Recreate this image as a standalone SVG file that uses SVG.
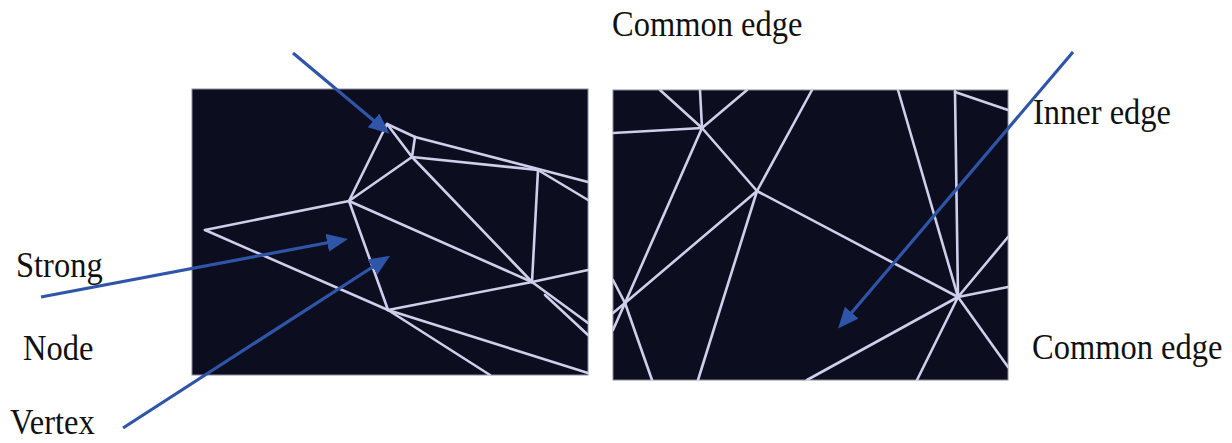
<svg xmlns="http://www.w3.org/2000/svg" width="1232" height="443" viewBox="0 0 1232 443">
  <style>
    .panel { fill: #0c0e1f; stroke: #8a8a9a; stroke-width: 1; }
    .mesh line { stroke: #cfcfec; stroke-width: 2.6; stroke-linecap: round; }
    .lbl { font-family: "Liberation Serif", "Times New Roman", serif; font-size: 32.5px; fill: #111; }
    .arrow { stroke: #2f55a8; stroke-width: 3.2; fill: none; }
  </style>
  <defs>
    <marker id="ah" markerUnits="userSpaceOnUse" markerWidth="22" markerHeight="20" refX="15" refY="9" orient="auto">
      <path d="M0,0 L21,9 L0,18 z" fill="#2f55a8"/>
    </marker>
  </defs>
  <rect width="1232" height="443" fill="#ffffff"/>

  <g id="panel-left">
    <rect class="panel" x="192" y="89" width="396" height="286"/>
    <g class="mesh">
      <line x1="387" y1="124" x2="415" y2="137"/>
      <line x1="415" y1="137" x2="588" y2="182"/>
      <line x1="415" y1="137" x2="412" y2="157"/>
      <line x1="387" y1="124" x2="412" y2="157"/>
      <line x1="387" y1="124" x2="349" y2="201"/>
      <line x1="412" y1="157" x2="349" y2="201"/>
      <line x1="412" y1="157" x2="538" y2="170"/>
      <line x1="538" y1="170" x2="588" y2="200"/>
      <line x1="538" y1="170" x2="532" y2="282"/>
      <line x1="412" y1="157" x2="532" y2="282"/>
      <line x1="349" y1="201" x2="532" y2="282"/>
      <line x1="349" y1="201" x2="205" y2="230"/>
      <line x1="349" y1="201" x2="388" y2="310"/>
      <line x1="205" y1="230" x2="388" y2="310"/>
      <line x1="388" y1="310" x2="532" y2="282"/>
      <line x1="532" y1="282" x2="588" y2="270"/>
      <line x1="532" y1="282" x2="588" y2="323"/>
      <line x1="545" y1="295" x2="588" y2="335"/>
      <line x1="388" y1="310" x2="490" y2="375"/>
      <line x1="388" y1="310" x2="588" y2="373"/>
    </g>
  </g>

  <g id="panel-right">
    <rect class="panel" x="613" y="90" width="395" height="290"/>
    <g class="mesh">
      <line x1="660" y1="90" x2="702" y2="128"/>
      <line x1="702" y1="128" x2="757" y2="191"/>
      <line x1="700" y1="90" x2="702" y2="128"/>
      <line x1="747" y1="90" x2="702" y2="128"/>
      <line x1="613" y1="133" x2="702" y2="128"/>
      <line x1="702" y1="128" x2="625" y2="303"/>
      <line x1="625" y1="303" x2="613" y2="330"/>
      <line x1="812" y1="90" x2="757" y2="191"/>
      <line x1="757" y1="191" x2="958" y2="297"/>
      <line x1="757" y1="191" x2="698" y2="380"/>
      <line x1="757" y1="191" x2="625" y2="303"/>
      <line x1="625" y1="303" x2="613" y2="313"/>
      <line x1="613" y1="280" x2="625" y2="303"/>
      <line x1="625" y1="303" x2="652" y2="380"/>
      <line x1="898" y1="90" x2="958" y2="297"/>
      <line x1="955" y1="91" x2="958" y2="297"/>
      <line x1="955" y1="92" x2="1008" y2="110"/>
      <line x1="958" y1="297" x2="1008" y2="237"/>
      <line x1="958" y1="297" x2="1008" y2="287"/>
      <line x1="958" y1="297" x2="1008" y2="367"/>
      <line x1="958" y1="297" x2="917" y2="380"/>
      <line x1="958" y1="297" x2="807" y2="380"/>
    </g>
  </g>

  <g id="label-common-edge-top"><text class="lbl" transform="translate(612,36) scale(1,1.08)">Common edge</text></g>
  <g id="label-inner-edge"><text class="lbl" transform="translate(1033,124) scale(1,1.08)">Inner edge</text></g>
  <g id="label-common-edge-bottom"><text class="lbl" transform="translate(1032,359) scale(1,1.08)">Common edge</text></g>
  <g id="label-strong"><text class="lbl" transform="translate(16,277) scale(1,1.08)">Strong</text></g>
  <g id="label-node"><text class="lbl" transform="translate(23,360) scale(1,1.08)">Node</text></g>
  <g id="label-vertex"><text class="lbl" transform="translate(10,434) scale(1,1.08)">Vertex</text></g>

  <g id="connectors">
    <line class="arrow" x1="293" y1="53" x2="385" y2="130" marker-end="url(#ah)"/>
    <line class="arrow" x1="41" y1="297" x2="342" y2="240" marker-end="url(#ah)"/>
    <line class="arrow" x1="123" y1="428" x2="385" y2="259" marker-end="url(#ah)"/>
    <line class="arrow" x1="1073" y1="52" x2="842" y2="324" marker-end="url(#ah)"/>
  </g>
</svg>
